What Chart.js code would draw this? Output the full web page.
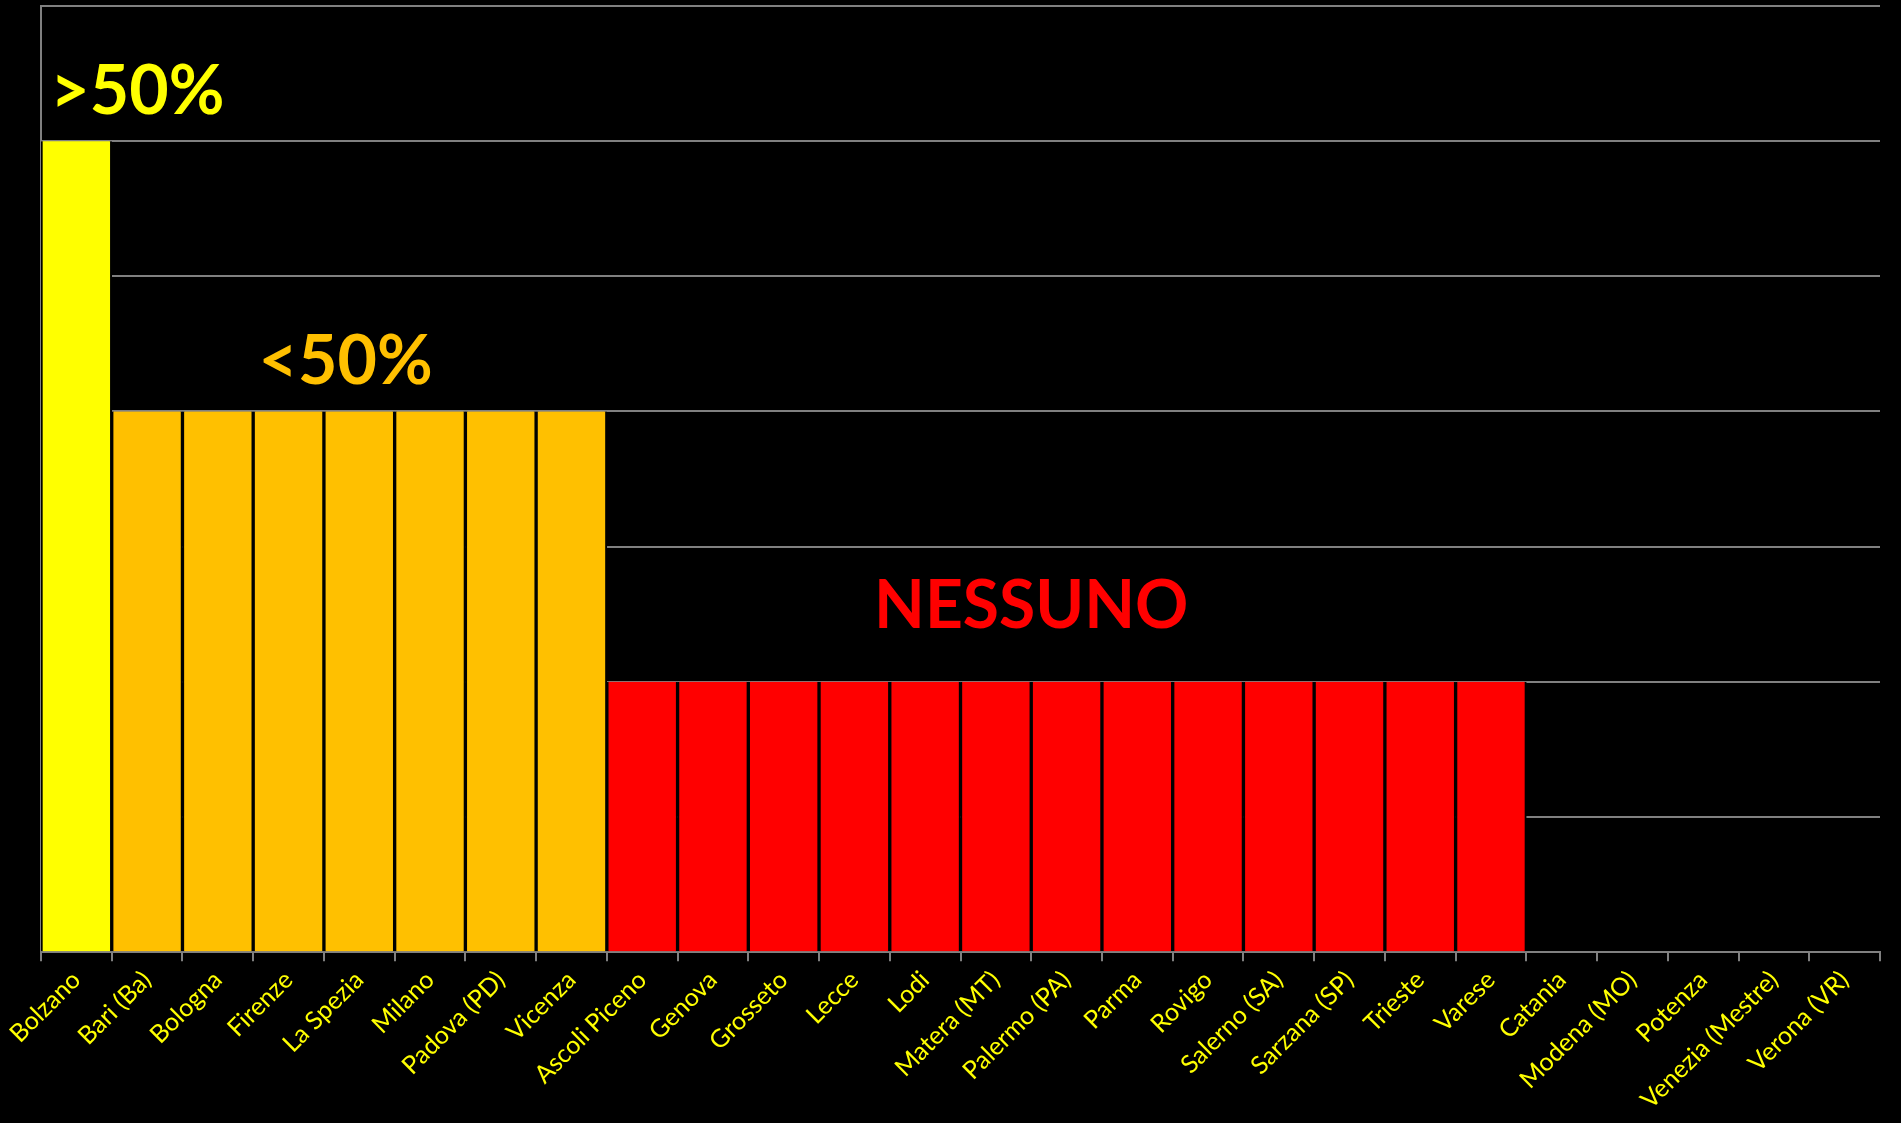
<!DOCTYPE html>
<html>
<head>
<meta charset="utf-8">
<script src="https://cdn.jsdelivr.net/npm/chart.js@4"></script>
<style>
html,body{margin:0;padding:0;background:#000;}
#wrap{width:1901px;height:1123px;position:relative;}
</style>
</head>
<body>
<div id="wrap"><canvas id="c" width="1901" height="1123"></canvas></div>
<script>
const categories = ["Bolzano","Bari (Ba)","Bologna","Firenze","La Spezia","Milano","Padova (PD)","Vicenza","Ascoli Piceno","Genova","Grosseto","Lecce","Lodi","Matera (MT)","Palermo (PA)","Parma","Rovigo","Salerno (SA)","Sarzana (SP)","Trieste","Varese","Catania","Modena (MO)","Potenza","Venezia (Mestre)","Verona (VR)"];
const values = [6,4,4,4,4,4,4,4,2,2,2,2,2,2,2,2,2,2,2,2,2,0,0,0,0,0];
const groupLabels = [">50%","<50%","NESSUNO"];

function colorFor(v){ return v>=6 ? "#FFFF00" : (v>=4 ? "#FFC000" : "#FF0000"); }

const annotPlugin = {
  id:"annot",
  beforeDraw(chart){
    const c=chart.ctx; c.save(); c.fillStyle="#000"; c.fillRect(0,0,chart.width,chart.height); c.restore();
  },
  afterDatasetsDraw(chart){
    const x=chart.scales.x, y=chart.scales.y, c=chart.ctx;
    c.save();
    c.textBaseline="alphabetic";
    c.textAlign="left";
    c.font="bold 68px Lato";
    c.fillStyle="#FFFF00";
    c.fillText(groupLabels[0], x.getPixelForValue(0)-26, y.getPixelForValue(6)-27);
    c.fillStyle="#FFC000";
    c.fillText(groupLabels[1], x.getPixelForValue(3)-30, y.getPixelForValue(4)-27);
    c.font="bold 66px Lato";
    c.fillStyle="#FF0000";
    c.textAlign="center";
    c.fillText(groupLabels[2], (x.getPixelForValue(13)+x.getPixelForValue(14))/2, y.getPixelForValue(2)-54);
    c.restore();
  }
};

new Chart(document.getElementById("c"), {
  type:"bar",
  data:{
    labels:categories,
    datasets:[{
      data:values,
      backgroundColor:values.map(colorFor),
      borderColor:"#000",
      borderWidth:{left:2,right:2,top:0,bottom:0},
      borderSkipped:false,
      barPercentage:1,
      categoryPercentage:1
    }]
  },
  options:{
    responsive:false,
    animation:false,
    devicePixelRatio:1,
    layout:{padding:{left:41,right:21,top:6,bottom:4}},
    plugins:{legend:{display:false},tooltip:{enabled:false}},
    scales:{
      x:{
        grid:{display:true,drawOnChartArea:false,drawTicks:true,tickLength:9,color:"#808080",lineWidth:2},
        border:{display:true,color:"#808080",width:2},
        ticks:{color:"#FFFF00",font:{family:"Lato",size:25},maxRotation:45,minRotation:45,autoSkip:false,padding:4}
      },
      y:{
        min:0,max:7,
        ticks:{display:false,stepSize:1},
        grid:{color:"#808080",lineWidth:2,drawTicks:false},
        border:{display:true,color:"#808080",width:2}
      }
    }
  },
  plugins:[annotPlugin]
});
</script>
</body>
</html>
